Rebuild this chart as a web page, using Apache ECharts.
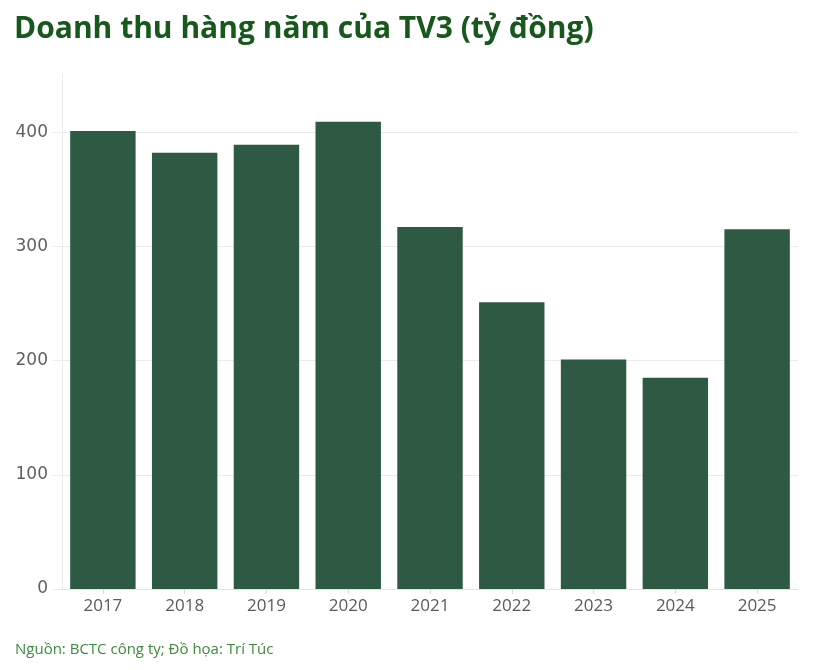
<!DOCTYPE html>
<html>
<head>
<meta charset="utf-8">
<script src="https://cdn.jsdelivr.net/npm/echarts@6/dist/echarts.min.js"></script>
<style>
  html, body { margin: 0; padding: 0; background: #fff; }
  #chart { width: 820px; height: 670px; }
</style>
</head>
<body>
<div id="chart"></div>
<script>
// doanh thu TV3, tỷ đồng
var years = ['2017', '2018', '2019', '2020', '2021', '2022', '2023', '2024', '2025']
var revenue = [401, 382, 389, 409, 317, 251, 201, 185, 315]
var yMax = 450
var yStep = 100

var chart = echarts.init(document.getElementById('chart'))

var gridColor = '#ebebeb'
// đường lưới: ẩn đường ở mức max (450)
var splitColors = [gridColor, gridColor, gridColor, gridColor, gridColor, 'rgba(0,0,0,0)']

var option = {
  animation: false,
  title: [
    {
      text: 'Doanh thu hàng năm của TV3 (tỷ đồng)',
      left: 9,
      top: 9,
      textStyle: { fontFamily: 'Open Sans', fontWeight: 'bold', fontSize: 30, color: '#17581c' }
    },
    {
      text: 'Nguồn: BCTC công ty; Đồ họa: Trí Túc',
      left: 10,
      top: 637,
      textStyle: { fontFamily: 'Open Sans', fontWeight: 'normal', fontSize: 15, color: '#3c8c3c' }
    }
  ],
  grid: [
    { left: 62, right: 22, top: 75, bottom: 81 },
    { left: 53, right: 22, top: 75, bottom: 81 }
  ],
  xAxis: [
    {
      type: 'category',
      gridIndex: 0,
      data: years,
      axisLine: { lineStyle: { color: '#e3e3e3', width: 1 } },
      axisTick: { show: true, alignWithLabel: true, length: 5, lineStyle: { color: '#dcdcdc' } },
      axisLabel: { color: '#5a5a5a', fontFamily: 'Open Sans', fontSize: 17, margin: 9 }
    },
    { type: 'value', gridIndex: 1, min: 0, max: 1, show: false }
  ],
  yAxis: [
    {
      type: 'value',
      gridIndex: 0,
      min: 0,
      max: yMax,
      interval: yStep,
      axisLine: { show: true, lineStyle: { color: '#ebebeb' } },
      axisTick: { show: false },
      splitLine: { show: false },
      axisLabel: { showMaxLabel: false, color: '#5f5f5f', fontFamily: 'DejaVu Sans', fontSize: 17, margin: 14 }
    },
    {
      type: 'value',
      gridIndex: 1,
      min: 0,
      max: yMax,
      interval: yStep,
      axisLine: { show: false },
      axisTick: { show: false },
      axisLabel: { show: false },
      splitLine: { show: true, lineStyle: { color: splitColors, width: 1 } }
    }
  ],
  series: [
    {
      type: 'bar',
      xAxisIndex: 0,
      yAxisIndex: 0,
      data: revenue,
      barCategoryGap: '20%',
      itemStyle: { color: '#2e5943' }
    }
  ]
}

chart.setOption(option)
</script>
</body>
</html>
